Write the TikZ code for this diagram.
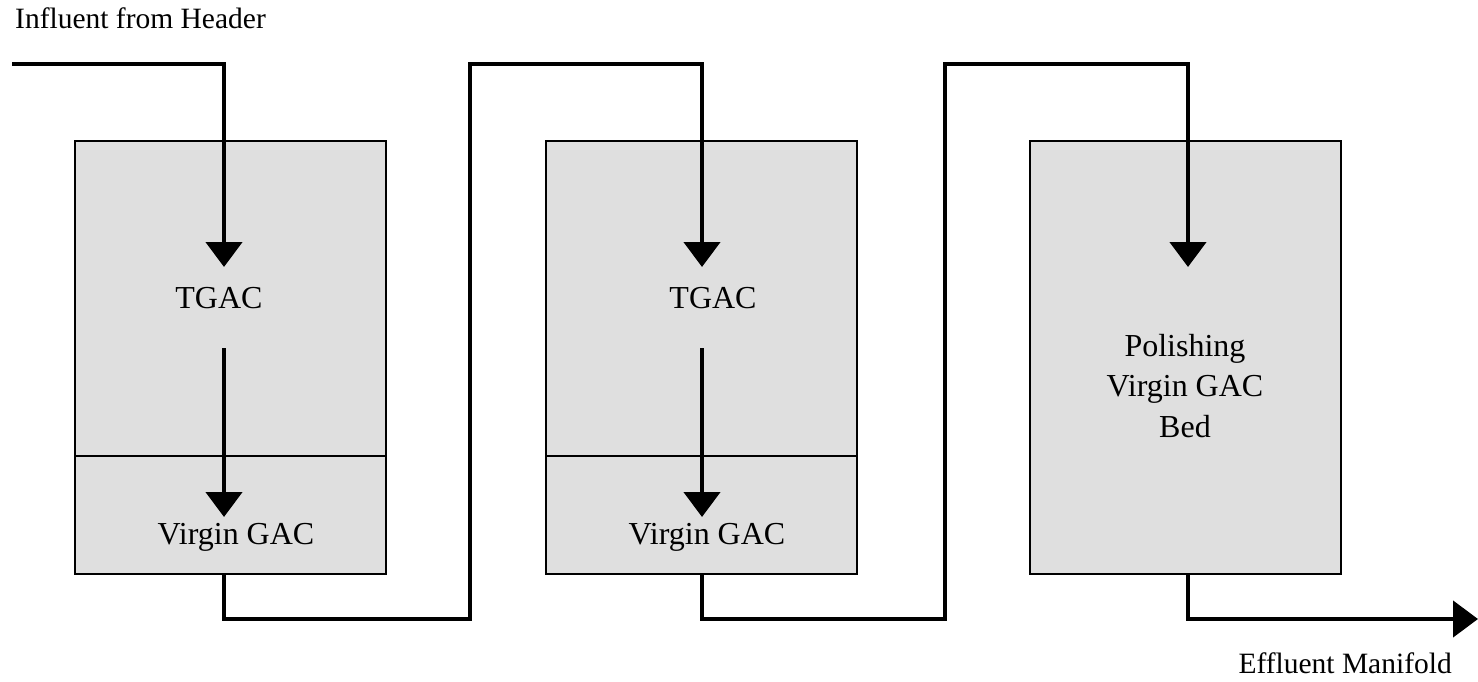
\documentclass[tikz,border=0pt]{standalone}
\usepackage{fontspec}
\setmainfont{Liberation Serif}
\usetikzlibrary{arrows.meta}
\begin{document}
\begin{tikzpicture}[x=1pt,y=-1pt,
  vessel/.style={draw=black,line width=1.8pt,fill=gray!25,inner sep=0pt,minimum width=311pt},
  pipe/.style={line width=4.5pt,line join=miter},
  flow/.style={pipe,-{Triangle[width=36pt,length=25pt]}},
  lbl/.style={font=\fontsize{32}{40.5}\selectfont,inner sep=0pt,align=center},
  side/.style={font=\fontsize{29.5}{36}\selectfont,inner sep=0pt}]
\useasboundingbox (0,0) rectangle (1478,682);
% vessels
\node[vessel,minimum height=433pt,anchor=north west] (b1) at (74,140) {};
\node[vessel,minimum height=433pt,anchor=north west] (b2) at (545,140) {};
\node[vessel,minimum height=433pt,anchor=north west] (b3) at (1029,140) {};
\draw[line width=1.8pt] (74,456) coordinate (d1l) -- (385,456) coordinate (d1r);
\draw[line width=1.8pt] (545,456) coordinate (d2l) -- (856,456) coordinate (d2r);
% labels
\node[side,anchor=north west] (tin) at (15,8) {Influent from Header};
\node[lbl] (tg1) at (219,298) {TGAC};
\node[lbl] (vg1) at (236,537) {Virgin GAC};
\node[lbl] (tg2) at (713,298) {TGAC};
\node[lbl] (vg2) at (707,537) {Virgin GAC};
\node[lbl] (pol) at (1185,386) {Polishing\\Virgin GAC\\Bed};
\node[side,anchor=north east] (eff) at (1452,653) {Effluent Manifold};
% coordinates
\coordinate (in) at (12,64);
\coordinate (a1) at (224,267);
\coordinate (s1) at (224,348);
\coordinate (e1) at (224,517);
\coordinate (o1) at (224,573);
\coordinate (a2) at (702,267);
\coordinate (s2) at (702,348);
\coordinate (e2) at (702,517);
\coordinate (o2) at (702,573);
\coordinate (a3) at (1188,267);
\coordinate (o3) at (1188,573);
\coordinate (out) at (1478,619);
% flows
\draw[flow] (in) -| (a1);
\draw[flow] (s1) -- (e1);
\draw[flow] (o1) |- (470,619) |- (702,64) -- (a2);
\draw[flow] (s2) -- (e2);
\draw[flow] (o2) |- (945,619) |- (1188,64) -- (a3);
\draw[flow] (o3) |- (out);
\end{tikzpicture}
\end{document}
